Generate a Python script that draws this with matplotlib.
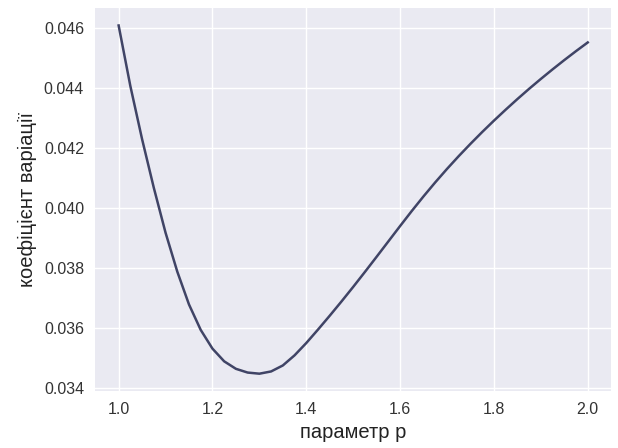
import matplotlib
matplotlib.use('Agg')
import matplotlib.pyplot as plt
import numpy as np

# coefficient of variation against the parameter p
p = [1.000, 1.025, 1.050, 1.075, 1.100, 1.125, 1.150, 1.175, 1.200, 1.225,
     1.250, 1.275, 1.300, 1.325, 1.350, 1.375, 1.400, 1.425, 1.450, 1.475,
     1.500, 1.525, 1.550, 1.575, 1.600, 1.625, 1.650, 1.675, 1.700, 1.725,
     1.750, 1.775, 1.800, 1.825, 1.850, 1.875, 1.900, 1.925, 1.950, 1.975,
     2.000]
cv = [0.046100, 0.044075, 0.042300, 0.040675, 0.039175, 0.037875, 0.036775, 0.035925, 0.035300, 0.034875,
      0.034625, 0.034500, 0.034462, 0.034537, 0.034737, 0.035075, 0.035487, 0.035937, 0.036400, 0.036875,
      0.037363, 0.037863, 0.038371, 0.038884, 0.039397, 0.039902, 0.040390, 0.040858, 0.041306, 0.041734,
      0.042144, 0.042539, 0.042919, 0.043285, 0.043640, 0.043983, 0.044313, 0.044633, 0.044943, 0.045243,
      0.045533]

xticks = [1.0, 1.2, 1.4, 1.6, 1.8, 2.0]
yticks = [0.034, 0.036, 0.038, 0.040, 0.042, 0.044, 0.046]

plt.rcParams['font.family'] = ['Liberation Sans', 'DejaVu Sans']

fig = plt.figure(figsize=(6.18, 4.48), dpi=100)
ax = fig.add_axes([0.154, 0.127, 0.835, 0.855])
ax.set_facecolor('#EAEAF2')
for s in ax.spines.values():
    s.set_visible(False)
ax.grid(True, color='white', linewidth=1.0)
ax.set_axisbelow(True)

ax.plot(p, cv, color='#404466', linewidth=1.8, solid_joinstyle='round')

ax.set_xticks(xticks)
ax.set_yticks(yticks)
ax.set_xticklabels(['%.1f' % v for v in xticks])
ax.set_yticklabels(['%.3f' % v for v in yticks])
ax.tick_params(length=0, labelsize=11.5, colors='#333333', pad=8)
ax.set_xlabel('параметр p', fontsize=14.5, color='#222222', labelpad=4)
ax.set_ylabel('коефіцієнт варіації', fontsize=14.5, color='#222222', labelpad=5)

fig.savefig('out.png', dpi=100, facecolor='white')
